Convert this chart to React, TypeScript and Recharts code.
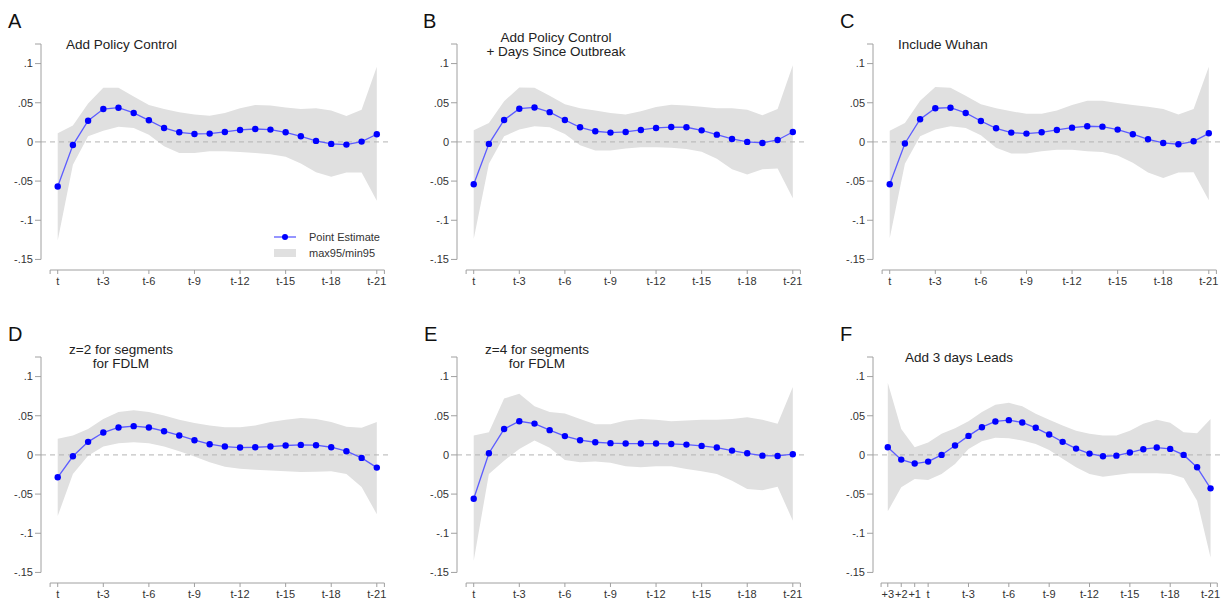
import { Area, ComposedChart, Legend, Line, ReferenceLine, XAxis, YAxis } from "recharts";

const FONT = '"Liberation Sans", Arial, sans-serif';

// x labels
const lagLabels = [
  "t", "t-1", "t-2", "t-3", "t-4", "t-5", "t-6", "t-7", "t-8", "t-9", "t-10",
  "t-11", "t-12", "t-13", "t-14", "t-15", "t-16", "t-17", "t-18", "t-19", "t-20", "t-21",
];
const leadLagLabels = ["+3", "+2", "+1", ...lagLabels];
const lagTicks = ["t", "t-3", "t-6", "t-9", "t-12", "t-15", "t-18", "t-21"];
const leadLagTicks = ["+3", "+2", "+1", ...lagTicks];
const yTicks = [-0.15, -0.1, -0.05, 0, 0.05, 0.1];

// A: Add Policy Control
const estA = [-0.057, -0.004, 0.027, 0.042, 0.0437, 0.037, 0.0276, 0.0178, 0.0123, 0.0102, 0.0106, 0.0127, 0.0153, 0.0165, 0.0157, 0.0123, 0.0072, 0.0013, -0.0025, -0.0034, 0.0004, 0.0098];
const hiA = [0.011, 0.021, 0.049, 0.069, 0.069, 0.058, 0.047, 0.042, 0.038, 0.035, 0.0335, 0.037, 0.043, 0.047, 0.0466, 0.044, 0.042, 0.043, 0.04, 0.033, 0.041, 0.096];
const loA = [-0.126, -0.029, 0.0072, 0.0144, 0.0195, 0.0178, 0.0093, -0.0055, -0.014, -0.014, -0.012, -0.012, -0.013, -0.014, -0.0157, -0.019, -0.0276, -0.0386, -0.0445, -0.039, -0.039, -0.075];

// B: + Days Since Outbreak
const estB = [-0.054, -0.0025, 0.028, 0.0424, 0.044, 0.038, 0.028, 0.0187, 0.0136, 0.0119, 0.0127, 0.0153, 0.0178, 0.019, 0.0187, 0.0148, 0.0093, 0.0038, 0, -0.0013, 0.0025, 0.0127];
const hiB = [0.0148, 0.024, 0.052, 0.0695, 0.069, 0.059, 0.048, 0.043, 0.04, 0.037, 0.035, 0.039, 0.0445, 0.0475, 0.0466, 0.045, 0.043, 0.043, 0.041, 0.034, 0.042, 0.098];
const loB = [-0.124, -0.028, 0.0072, 0.0157, 0.02, 0.0187, 0.01, -0.0042, -0.011, -0.011, -0.0085, -0.0068, -0.0068, -0.0076, -0.0089, -0.0127, -0.0216, -0.035, -0.0415, -0.035, -0.034, -0.072];

// C: Include Wuhan
const estC = [-0.054, -0.002, 0.029, 0.043, 0.0437, 0.037, 0.0267, 0.0174, 0.0119, 0.0106, 0.0123, 0.0153, 0.0182, 0.02, 0.0195, 0.0157, 0.0098, 0.0034, -0.0013, -0.003, 0.0008, 0.011];
const hiC = [0.0144, 0.024, 0.0526, 0.07, 0.069, 0.059, 0.048, 0.043, 0.039, 0.036, 0.036, 0.04, 0.047, 0.0526, 0.0526, 0.0496, 0.047, 0.045, 0.042, 0.035, 0.042, 0.096];
const loC = [-0.123, -0.028, 0.0072, 0.0157, 0.02, 0.0178, 0.0085, -0.0076, -0.0148, -0.0148, -0.012, -0.01, -0.01, -0.012, -0.013, -0.0174, -0.0267, -0.039, -0.046, -0.039, -0.0386, -0.0746];

// D: z=2
const estD = [-0.0286, -0.0017, 0.0167, 0.0286, 0.035, 0.0367, 0.035, 0.0303, 0.0248, 0.0188, 0.0137, 0.0107, 0.0094, 0.0098, 0.0107, 0.012, 0.0128, 0.0124, 0.0098, 0.0047, -0.0038, -0.0162];
const hiD = [0.0205, 0.0248, 0.033, 0.046, 0.0547, 0.057, 0.0547, 0.0504, 0.0448, 0.0406, 0.0376, 0.0354, 0.0354, 0.0376, 0.042, 0.045, 0.047, 0.046, 0.042, 0.036, 0.0346, 0.042];
const loD = [-0.078, -0.0243, -0.0009, 0.0107, 0.015, 0.0162, 0.015, 0.0107, 0.0047, -0.002, -0.0094, -0.015, -0.0175, -0.0188, -0.02, -0.021, -0.0218, -0.0214, -0.021, -0.0243, -0.041, -0.0756];

// E: z=4
const estE = [-0.056, 0.0021, 0.033, 0.043, 0.04, 0.0316, 0.024, 0.0188, 0.0162, 0.015, 0.0145, 0.0145, 0.0145, 0.014, 0.0132, 0.0115, 0.0094, 0.0055, 0.0021, -0.0009, -0.0013, 0.0009];
const hiE = [0.0248, 0.029, 0.072, 0.078, 0.062, 0.0547, 0.053, 0.046, 0.039, 0.039, 0.044, 0.046, 0.0448, 0.043, 0.044, 0.045, 0.045, 0.046, 0.048, 0.045, 0.0397, 0.0867];
const loE = [-0.135, -0.0243, -0.0073, 0.0077, 0.0184, 0.009, -0.0064, -0.0094, -0.0085, -0.01, -0.0145, -0.0158, -0.0145, -0.0145, -0.018, -0.021, -0.0243, -0.033, -0.0435, -0.045, -0.0406, -0.084];

// F: Add 3 days Leads
const estF = [0.0098, -0.006, -0.011, -0.0085, 0, 0.012, 0.0243, 0.0354, 0.0427, 0.0444, 0.0414, 0.0346, 0.026, 0.0167, 0.0081, 0.0017, -0.0017, -0.0009, 0.003, 0.0073, 0.0094, 0.0077, 0, -0.0158, -0.0427];
const hiF = [0.092, 0.033, 0.0098, 0.016, 0.027, 0.034, 0.043, 0.0547, 0.064, 0.0666, 0.062, 0.0525, 0.0448, 0.0376, 0.031, 0.027, 0.0248, 0.0248, 0.031, 0.0397, 0.0448, 0.041, 0.029, 0.0278, 0.046];
const loF = [-0.072, -0.0414, -0.0307, -0.032, -0.0243, -0.0115, 0.0077, 0.0175, 0.0218, 0.0213, 0.0184, 0.014, 0.0064, -0.005, -0.0158, -0.0243, -0.0278, -0.0256, -0.0235, -0.0235, -0.0235, -0.0243, -0.0295, -0.0585, -0.131];

const Y_MIN = -0.1635;
const Y_MAX = 0.125;
const X_MIN = -1.1;
const AXIS = "#a0a0a0";

const fmtY = (v: number) => {
  if (v === Y_MAX) return "";
  if (v === 0) return "0";
  return String(v).replace("0.", ".");
};

const panels = [
  { letter: "A", title: ["Add Policy Control"], center: false, tx: 66, ty: 45, labels: lagLabels, ticks: lagTicks, est: estA, hi: hiA, lo: loA, col: 0, row: 0, legend: true },
  { letter: "B", title: ["Add Policy Control", "+ Days Since Outbreak"], center: true, tx: 140, ty: 45, labels: lagLabels, ticks: lagTicks, est: estB, hi: hiB, lo: loB, col: 1, row: 0 },
  { letter: "C", title: ["Include Wuhan"], center: false, tx: 66, ty: 45, labels: lagLabels, ticks: lagTicks, est: estC, hi: hiC, lo: loC, col: 2, row: 0 },
  { letter: "D", title: ["z=2 for segments", "for FDLM"], center: true, tx: 121, ty: 44.5, labels: lagLabels, ticks: lagTicks, est: estD, hi: hiD, lo: loD, col: 0, row: 1 },
  { letter: "E", title: ["z=4 for segments", "for FDLM"], center: true, tx: 121, ty: 44.5, labels: lagLabels, ticks: lagTicks, est: estE, hi: hiE, lo: loE, col: 1, row: 1 },
  { letter: "F", title: ["Add 3 days Leads"], center: false, tx: 73, ty: 45, labels: leadLagLabels, ticks: leadLagTicks, est: estF, hi: hiF, lo: loF, col: 2, row: 1 },
];

const renderLegend = () => (
  <div style={{ fontFamily: FONT, fontSize: 11, color: "#333", lineHeight: "16px" }}>
    <div style={{ display: "flex", alignItems: "center" }}>
      <svg width={24} height={16}>
        <line x1={1} y1={8} x2={23} y2={8} stroke="#5c5cff" strokeWidth={1.3} />
        <circle cx={12} cy={8} r={3} fill="#0000ff" />
      </svg>
      <span style={{ marginLeft: 12 }}>Point Estimate</span>
    </div>
    <div style={{ display: "flex", alignItems: "center" }}>
      <svg width={24} height={16}>
        <rect x={1} y={4} width={22} height={8} fill="#e0e0e0" />
      </svg>
      <span style={{ marginLeft: 12 }}>max95/min95</span>
    </div>
  </div>
);

const Panel = ({ p }: { p: (typeof panels)[number] }) => {
  const n = p.labels.length;
  const data = p.labels.map((name, i) => ({ i, name, est: p.est[i], band: [p.lo[i], p.hi[i]] }));
  const xTicks = [-0.5, ...p.ticks.map((t) => p.labels.indexOf(t)), n - 0.5];
  const left = p.col * 416;
  const top = p.row * 312.7;
  const lh = 14;
  return (
    <div style={{ position: "absolute", left, top, width: 410, height: 300 }}>
      <div style={{ position: "absolute", left: p.letter === "B" ? 7 : 8, top: 10, fontSize: 20, fontFamily: FONT, color: "#111" }}>
        {p.letter}
      </div>
      <div
        style={{
          position: "absolute",
          left: p.center ? p.tx - 100 : p.tx,
          width: p.center ? 200 : 250,
          top: p.ty - (lh * p.title.length) / 2,
          textAlign: p.center ? "center" : "left",
          fontSize: 13.5,
          lineHeight: `${lh}px`,
          fontFamily: FONT,
          color: "#222",
          zIndex: 2,
        }}
      >
        {p.title.map((t) => (
          <div key={t}>{t}</div>
        ))}
      </div>
      <ComposedChart width={410} height={300} data={data} margin={{ top: 44, right: 18, bottom: 4, left: 0 }}>
        <XAxis
          type="number"
          dataKey="i"
          domain={[X_MIN, n]}
          allowDataOverflow
          ticks={xTicks}
          interval={0}
          tickFormatter={(v: number) => (Number.isInteger(v) ? p.labels[v] : "")}
          axisLine={false}
          tickLine={{ stroke: AXIS }}
          tickSize={4}
          tickMargin={3}
          height={26}
          tick={{ fontSize: 11, fill: "#333", fontFamily: FONT }}
        />
        <YAxis
          type="number"
          domain={[Y_MIN, Y_MAX]}
          allowDataOverflow
          ticks={[...yTicks, Y_MAX]}
          interval={0}
          tickFormatter={fmtY}
          axisLine={false}
          tickLine={{ stroke: AXIS }}
          tickSize={6}
          tickMargin={2}
          width={41}
          tick={{ fontSize: 11, fill: "#333", fontFamily: FONT }}
        />
        <Area dataKey="band" type="linear" fill="#e0e0e0" fillOpacity={1} stroke="none" isAnimationActive={false} />
        <ReferenceLine y={0} stroke="#b4b4b4" strokeDasharray="5 4" />
        <ReferenceLine segment={[{ x: X_MIN, y: -0.15 }, { x: X_MIN, y: Y_MAX }]} stroke={AXIS} strokeWidth={1} />
        <ReferenceLine segment={[{ x: -0.5, y: Y_MIN }, { x: n - 0.5, y: Y_MIN }]} stroke={AXIS} strokeWidth={1} />
        <Line
          dataKey="est"
          type="linear"
          stroke="#5c5cff"
          strokeWidth={1.3}
          dot={{ r: 3.2, fill: "#0000ff", stroke: "none" }}
          isAnimationActive={false}
        />
        {p.legend && (
          <Legend
            verticalAlign="middle"
            align="center"
            layout="horizontal"
            content={renderLegend}
            wrapperStyle={{ left: 273, top: 229, width: 130 }}
          />
        )}
      </ComposedChart>
    </div>
  );
}

export default function App() {
  return (
    <div style={{ position: "absolute", left: 0, top: 0, width: 1225, height: 603, overflow: "hidden", background: "#fff" }}>
      {panels.map((p) => (
        <Panel key={p.letter} p={p} />
      ))}
    </div>
  );
}
